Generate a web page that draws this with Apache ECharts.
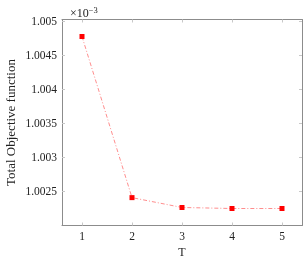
<!DOCTYPE html>
<html><head><meta charset="utf-8">
<script src="https://cdn.jsdelivr.net/npm/echarts@6/dist/echarts.min.js"></script>
<style>html,body{margin:0;padding:0;background:#fff}#c{width:304px;height:259px}</style>
</head><body><div id="c"></div>
<script>
var T = [1, 2, 3, 4, 5];
var objective = [1.00478, 1.00241, 1.002265, 1.00225, 1.00225];
var yTicks = [1.0025, 1.003, 1.0035, 1.004, 1.0045, 1.005];
var font = 'Liberation Serif';
var axisGray = '#8c8c8c';
var tickGray = '#c8c8c8';
var chart = echarts.init(document.getElementById('c'));
chart.setOption({
  animation:false,
  grid:{left:62,right:2,top:19.5,bottom:33.5,containLabel:false,outerBoundsMode:'none'},
  title:{text:'{a|×10}{b|−3}',left:65,top:1,textStyle:{rich:{
    a:{fontFamily:font,fontSize:12,fontWeight:'normal',color:'#222'},
    b:{fontFamily:font,fontSize:8.5,fontWeight:'normal',color:'#222',verticalAlign:'top',padding:[0,0,6,0]}}}},
  xAxis:[{
    type:'value',min:0.6,max:5.4,
    axisLine:{show:true,lineStyle:{color:axisGray,width:1}},
    axisTick:{show:true,inside:true,length:3,lineStyle:{color:tickGray},customValues:T},
    axisLabel:{fontFamily:font,fontSize:11.5,color:'#222',margin:5,customValues:T},
    splitLine:{show:false},
    name:'T',nameLocation:'middle',nameGap:21,nameMoveOverlap:false,
    nameTextStyle:{fontFamily:font,fontSize:12,color:'#222'}
  },{
    type:'value',position:'top',min:0.6,max:5.4,
    axisLine:{show:true,lineStyle:{color:axisGray,width:1}},
    axisTick:{show:true,inside:true,length:3,lineStyle:{color:tickGray},customValues:T},
    axisLabel:{show:false},splitLine:{show:false}
  }],
  yAxis:[{
    type:'value',min:1.002,max:1.00503,
    axisLine:{show:true,lineStyle:{color:axisGray,width:1}},
    axisTick:{show:true,inside:true,length:3,lineStyle:{color:tickGray},customValues:yTicks},
    axisLabel:{fontFamily:font,fontSize:11.5,color:'#222',margin:5,customValues:yTicks,
      formatter:function(v){return String(+v.toFixed(4));}},
    splitLine:{show:false},
    name:'Total Objective function',nameLocation:'middle',nameGap:44,nameMoveOverlap:false,
    nameTextStyle:{fontFamily:font,fontSize:13,color:'#222'}
  },{
    type:'value',position:'right',min:1.002,max:1.00503,
    axisLine:{show:true,lineStyle:{color:axisGray,width:1}},
    axisTick:{show:true,inside:true,length:3,lineStyle:{color:tickGray},customValues:yTicks},
    axisLabel:{show:false},splitLine:{show:false}
  }],
  series:[{
    type:'line',
    data:T.map(function(t,i){return [t,objective[i]];}),
    symbol:'rect',symbolSize:5,
    itemStyle:{color:'#ff0000'},
    lineStyle:{color:'#ff7070',width:0.8,type:[4,2,1,2]}
  }]
});
</script></body></html>
